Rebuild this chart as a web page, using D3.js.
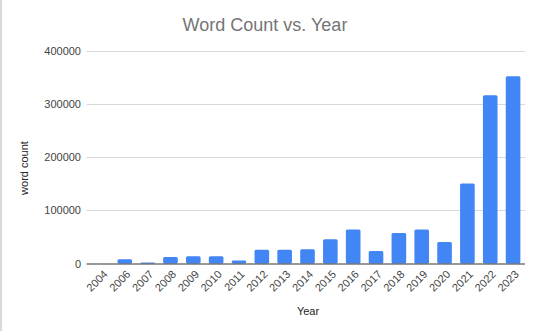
<!DOCTYPE html>
<html>
<head>
<meta charset="utf-8">
<script src="https://cdn.jsdelivr.net/npm/d3@7"></script>
<style>
  body { margin: 0; background: #fff; font-family: "Liberation Sans", Arial, sans-serif; }
  #chart { border-left: 2px solid #d9d9d9; width: 538px; height: 331px; }
</style>
</head>
<body>
<div id="chart"></div>
<script>
const years = ["2004", "2006", "2007", "2008", "2009", "2010", "2011", "2012", "2013", "2014",
               "2015", "2016", "2017", "2018", "2019", "2020", "2021", "2022", "2023"];
const wordCounts = [0, 8000, 2000, 12000, 13700, 13700, 5600, 25600, 25600, 26900,
                    45700, 63900, 23700, 57500, 63900, 40600, 150400, 315800, 351500];
const yTicks = [0, 100000, 200000, 300000, 400000];

const w = 538;
const h = 331;
const svg = d3.select("#chart")
  .append("svg")
  .attr("width", w)
  .attr("height", h);

const xScale = d3.scaleBand()
  .domain(years)
  .range([88.5, 522.5])
  .paddingInner(0.36)
  .paddingOuter(0.18);

const yScale = d3.scaleLinear()
  .domain([0, 400000])
  .range([263.5, 50.5]);

// gridlines
svg.append("g")
  .selectAll("line")
  .data(yTicks.slice(1))
  .enter()
  .append("line")
  .attr("x1", 84.5)
  .attr("x2", 523)
  .attr("y1", d => Math.round(yScale(d)) + 0.5)
  .attr("y2", d => Math.round(yScale(d)) + 0.5)
  .attr("stroke", "#d9d9d9");

svg.append("g")
  .selectAll("rect")
  .data(years)
  .enter()
  .append("rect")
  .attr("x", (d, i) => xScale(d))
  .attr("y", (d, i) => yScale(wordCounts[i]))
  .attr("width", xScale.bandwidth())
  .attr("height", (d, i) => yScale(0) - yScale(wordCounts[i]))
  .attr("rx", 1.5)
  .attr("fill", "#4285f4");

// baseline
svg.append("line")
  .attr("x1", 84.5)
  .attr("x2", 523)
  .attr("y1", yScale(0) + 0.5)
  .attr("y2", yScale(0) + 0.5)
  .attr("stroke", "#333")
  .attr("stroke-width", 1);

const yAxis = d3.axisLeft(yScale).tickValues(yTicks).tickFormat(d3.format("d")).tickSize(0).tickPadding(0);
svg.append("g")
  .attr("transform", "translate(79,0)")
  .call(yAxis)
  .call(g => g.select(".domain").remove())
  .selectAll("text")
  .attr("font-family", "Liberation Sans, Arial, sans-serif")
  .attr("font-size", 11)
  .attr("fill", "#444");

const xAxis = d3.axisBottom(xScale).tickSize(0).tickPadding(0);
svg.append("g")
  .attr("transform", "translate(0," + (yScale(0) + 6) + ")")
  .call(xAxis)
  .call(g => g.select(".domain").remove())
  .selectAll("text")
  .attr("font-family", "Liberation Sans, Arial, sans-serif")
  .attr("font-size", 11)
  .attr("fill", "#444")
  .attr("text-anchor", "end")
  .attr("dy", "0.7em")
  .attr("transform", "translate(1,0) rotate(-45)");

svg.append("text")
  .attr("x", 263)
  .attr("y", 31)
  .attr("text-anchor", "middle")
  .attr("font-size", 18)
  .attr("fill", "#757575")
  .text("Word Count vs. Year");

svg.append("text")
  .attr("transform", "translate(26,168) rotate(-90)")
  .attr("text-anchor", "middle")
  .attr("font-size", 11)
  .attr("fill", "#222")
  .text("word count");

svg.append("text")
  .attr("x", 306)
  .attr("y", 315)
  .attr("text-anchor", "middle")
  .attr("font-size", 11)
  .attr("fill", "#222")
  .text("Year");
</script>
</body>
</html>
